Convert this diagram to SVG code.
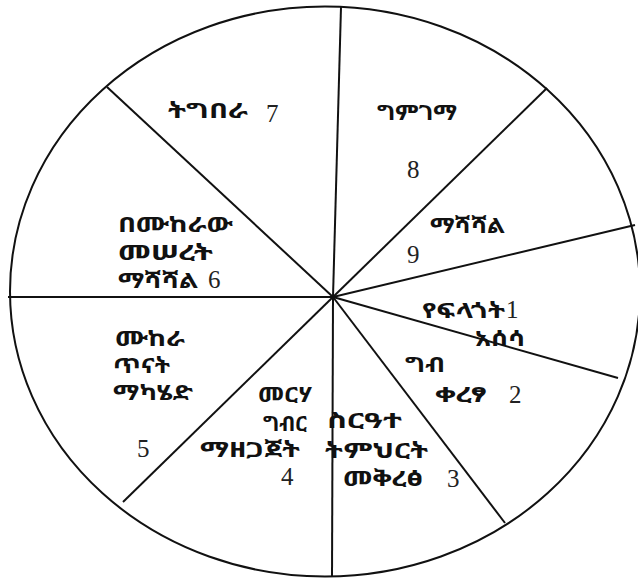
<svg xmlns="http://www.w3.org/2000/svg" width="638" height="578" viewBox="0 0 638 578">
<style>
.am{font-family:"Noto Sans Ethiopic","Noto Serif Ethiopic","Abyssinica SIL","Noto Sans","DejaVu Sans",sans-serif;font-size:21px;font-weight:bold;fill:#111}
.num{font-family:"Liberation Serif",serif;font-size:25px;fill:#222}
.ln{stroke:#111;stroke-width:2;fill:none}
</style>
<rect width="638" height="578" fill="#fff"/>
<ellipse id="circle" cx="325" cy="291.5" rx="315" ry="285" class="ln"/>
<g id="connectors">
<line x1="333" y1="297" x2="341" y2="7" class="ln"/>
<line x1="333" y1="297" x2="547" y2="88" class="ln"/>
<line x1="333" y1="297" x2="635" y2="225" class="ln"/>
<line x1="333" y1="297" x2="618" y2="378" class="ln"/>
<line x1="333" y1="297" x2="505" y2="523" class="ln"/>
<line x1="333" y1="297" x2="332" y2="577" class="ln"/>
<line x1="333" y1="297" x2="123" y2="502" class="ln"/>
<line x1="333" y1="297" x2="8" y2="297" class="ln"/>
<line x1="333" y1="297" x2="107" y2="87" class="ln"/>
</g>
<g id="seg1"><text class="am" x="422" y="318" textLength="83" lengthAdjust="spacingAndGlyphs">የፍላጎት</text><text class="num" x="506" y="318">1</text><text class="am" x="475" y="346" textLength="50" lengthAdjust="spacingAndGlyphs">አሰሳ</text></g>
<g id="seg2"><text class="am" x="405" y="372" textLength="40" lengthAdjust="spacingAndGlyphs">ግብ</text><text class="am" x="435" y="402" textLength="52" lengthAdjust="spacingAndGlyphs">ቀረፃ</text><text class="num" x="509" y="403">2</text></g>
<g id="seg3"><text class="am" x="327" y="428" textLength="75" lengthAdjust="spacingAndGlyphs">ስርዓተ</text><text class="am" x="325" y="458" textLength="103" lengthAdjust="spacingAndGlyphs">ትምህርት</text><text class="am" x="343" y="486" textLength="80" lengthAdjust="spacingAndGlyphs">መቅረፅ</text><text class="num" x="447" y="487">3</text></g>
<g id="seg4"><text class="am" x="258" y="402" textLength="55" lengthAdjust="spacingAndGlyphs">መርሃ</text><text class="am" x="263" y="431">ግብር</text><text class="am" x="200" y="457" textLength="100" lengthAdjust="spacingAndGlyphs">ማዘጋጀት</text><text class="num" x="281" y="485">4</text></g>
<g id="seg5"><text class="am" x="115" y="346" textLength="70" lengthAdjust="spacingAndGlyphs">ሙከራ</text><text class="am" x="113" y="373" textLength="57" lengthAdjust="spacingAndGlyphs">ጥናት</text><text class="am" x="113" y="400" textLength="80" lengthAdjust="spacingAndGlyphs">ማካሄድ</text><text class="num" x="137" y="457">5</text></g>
<g id="seg6"><text class="am" x="118" y="232" textLength="115" lengthAdjust="spacingAndGlyphs">በሙከራው</text><text class="am" x="118" y="260" textLength="95" lengthAdjust="spacingAndGlyphs">መሠረት</text><text class="am" x="118" y="288" textLength="80" lengthAdjust="spacingAndGlyphs">ማሻሻል</text><text class="num" x="208" y="288">6</text></g>
<g id="seg7"><text class="am" x="168" y="118" textLength="80" lengthAdjust="spacingAndGlyphs">ትግበራ</text><text class="num" x="266" y="122">7</text></g>
<g id="seg8"><text class="am" x="377" y="120" textLength="80" lengthAdjust="spacingAndGlyphs">ግምገማ</text><text class="num" x="407" y="178">8</text></g>
<g id="seg9"><text class="am" x="430" y="233" textLength="75" lengthAdjust="spacingAndGlyphs">ማሻሻል</text><text class="num" x="407" y="263">9</text></g>
</svg>
